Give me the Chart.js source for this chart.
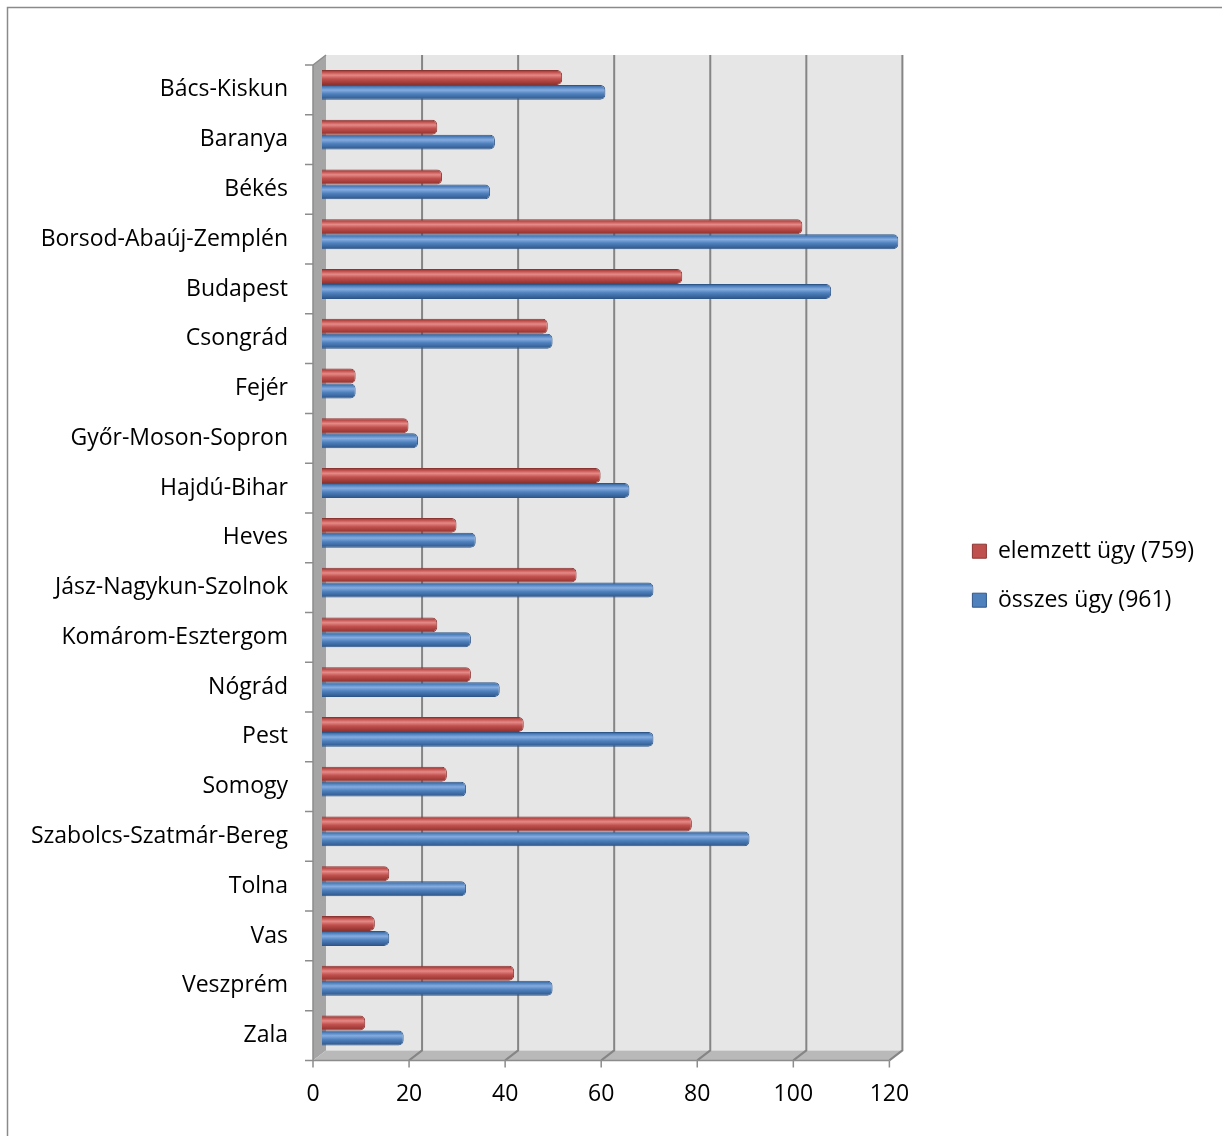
<!DOCTYPE html>
<html>
<head>
<meta charset="utf-8">
<script src="https://cdn.jsdelivr.net/npm/chart.js@4.4.1/dist/chart.umd.min.js"></script>
<style>
  html, body { margin: 0; padding: 0; background: #fff; }
  #wrap { position: absolute; left: 0; top: 0; width: 1222px; height: 1136px; }
</style>
</head>
<body>
<div id="wrap"><canvas id="chart" width="1222" height="1136"></canvas></div>
<script>
// counties (megyék)
const counties = [
  'Bács-Kiskun', 'Baranya', 'Békés', 'Borsod-Abaúj-Zemplén', 'Budapest',
  'Csongrád', 'Fejér', 'Győr-Moson-Sopron', 'Hajdú-Bihar', 'Heves',
  'Jász-Nagykun-Szolnok', 'Komárom-Esztergom', 'Nógrád', 'Pest', 'Somogy',
  'Szabolcs-Szatmár-Bereg', 'Tolna', 'Vas', 'Veszprém', 'Zala'
];
const elemzett = [50, 24, 25, 100, 75, 47, 7, 18, 58, 28, 53, 24, 31, 42, 26, 77, 14, 11, 40, 9];
const osszes   = [59, 36, 35, 120, 106, 48, 7, 20, 64, 32, 69, 31, 37, 69, 30, 89, 30, 14, 48, 17];
const xTicks = [0, 20, 40, 60, 80, 100, 120];

const FONT = '"Open Sans", Lato, sans-serif';

// cylinder-ish shading for each bar, built from the y scale
function barFill(base, light, dark) {
  return (c) => {
    const ch = c.chart;
    const ys = ch.scales.y;
    if (!ys || !ch.chartArea) return base;
    const center = ys.getPixelForValue(c.dataIndex);
    const band = (ys.bottom - ys.top) / counties.length;
    const h = band * 0.6 / 2;
    const y0 = c.datasetIndex === 0 ? center - h : center;
    const g = ch.ctx.createLinearGradient(0, y0, 0, y0 + h);
    g.addColorStop(0, dark);
    g.addColorStop(0.15, base);
    g.addColorStop(0.35, light);
    g.addColorStop(0.6, base);
    g.addColorStop(1, dark);
    return g;
  };
}

// empty box between plot and legend
const gap = {
  id: 'gap',
  start(chart) {
    const box = {
      position: 'right', weight: 0, fullSize: false, options: {},
      left: 0, top: 0, right: 0, bottom: 0, width: 0, height: 0,
      isHorizontal() { return false; },
      update(maxW, maxH) { this.width = 48; this.height = maxH; },
      draw() {}
    };
    Chart.layouts.addBox(chart, box);
  }
};

// fake 3D walls, floor and gridlines behind the bars
const walls = {
  id: 'walls',
  beforeDatasetsDraw(chart) {
    const ctx = chart.ctx;
    const xs = chart.scales.x;
    const ca = chart.chartArea;
    const front = v => xs.getPixelForValue(v) - 9;
    const back = v => xs.getPixelForValue(v) + 4;
    const fTop = ca.top + 5, bTop = ca.top - 5;
    const fBot = ca.bottom + 5, bBot = ca.bottom - 5;
    const max = xTicks[xTicks.length - 1];
    ctx.save();
    // back wall
    ctx.fillStyle = '#e6e6e6';
    ctx.fillRect(back(0), bTop, back(max) - back(0), bBot - bTop);
    // left side wall
    ctx.fillStyle = '#a5a5a5';
    ctx.beginPath();
    ctx.moveTo(front(0), fTop);
    ctx.lineTo(back(0), bTop);
    ctx.lineTo(back(0), bBot);
    ctx.lineTo(front(0), fBot);
    ctx.closePath();
    ctx.fill();
    // floor
    ctx.fillStyle = '#b9b9b9';
    ctx.beginPath();
    ctx.moveTo(front(0), fBot);
    ctx.lineTo(back(0), bBot);
    ctx.lineTo(back(max), bBot);
    ctx.lineTo(front(max), fBot);
    ctx.closePath();
    ctx.fill();
    // gridlines
    ctx.strokeStyle = '#858585';
    ctx.lineWidth = 2;
    xs.ticks.forEach(t => {
      if (t.value === 0) return;
      ctx.beginPath();
      ctx.moveTo(back(t.value), bTop);
      ctx.lineTo(back(t.value), bBot);
      ctx.lineTo(front(t.value), fBot);
      ctx.stroke();
    });
    // axis lines and tick marks
    ctx.strokeStyle = '#8c8c8c';
    ctx.lineWidth = 1.5;
    ctx.beginPath();
    ctx.moveTo(front(0), fTop);
    ctx.lineTo(front(0), fBot);
    ctx.lineTo(front(max), fBot);
    ctx.moveTo(front(0), fTop);
    ctx.lineTo(back(0), bTop);
    xs.ticks.forEach(t => {
      ctx.moveTo(front(t.value), fBot);
      ctx.lineTo(front(t.value), fBot + 7);
    });
    const band = (ca.bottom - ca.top) / counties.length;
    for (let i = 0; i <= counties.length; i++) {
      const y = fTop + i * band;
      ctx.moveTo(front(0) - 8, y);
      ctx.lineTo(front(0), y);
    }
    ctx.stroke();
    ctx.restore();
  },
  afterDraw(chart) {
    // outer frame
    const ctx = chart.ctx;
    ctx.save();
    ctx.strokeStyle = '#8a8a8a';
    ctx.lineWidth = 1.5;
    ctx.strokeRect(7.5, 7.5, 1300, 1300);
    ctx.restore();
  }
};

new Chart(document.getElementById('chart'), {
  type: 'bar',
  data: {
    labels: counties,
    datasets: [
      {
        label: 'elemzett ügy (759)',
        data: elemzett,
        backgroundColor: barFill('#c0504d', '#e58a87', '#8e2f2c'),
        borderColor: '#8b3533',
        borderWidth: 1,
        borderSkipped: 'start',
        borderRadius: 5
      },
      {
        label: 'összes ügy (961)',
        data: osszes,
        backgroundColor: barFill('#4f81bd', '#86ace0', '#2c5489'),
        borderColor: '#2f5688',
        borderWidth: 1,
        borderSkipped: 'start',
        borderRadius: 5
      }
    ]
  },
  options: {
    indexAxis: 'y',
    responsive: false,
    animation: false,
    devicePixelRatio: 1,
    categoryPercentage: 0.6,
    barPercentage: 1,
    layout: { padding: { left: 0, top: 60, right: 18, bottom: 3 } },
    scales: {
      x: {
        min: 0,
        max: 120,
        afterBuildTicks: axis => { axis.ticks = xTicks.map(v => ({ value: v })); },
        grid: { display: false, drawTicks: false },
        border: { display: false },
        ticks: { padding: 25, labelOffset: -9, color: '#000', font: { family: FONT, size: 23 } }
      },
      y: {
        afterFit: scale => { scale.width = 322; },
        grid: { display: false, drawTicks: false },
        border: { display: false },
        ticks: { padding: 34, labelOffset: 5, color: '#000', font: { family: FONT, size: 23 } }
      }
    },
    plugins: {
      legend: {
        position: 'right',
        fullSize: false,
        maxWidth: 320,
        title: { display: true, text: '', padding: 12, font: { size: 10 } },
        labels: {
          boxWidth: 14,
          boxHeight: 14,
          padding: 26,
          color: '#000',
          font: { family: FONT, size: 23 },
          generateLabels: chart => chart.data.datasets.map((ds, i) => ({
            text: ds.label,
            fillStyle: i === 0 ? '#c0504d' : '#4f81bd',
            strokeStyle: i === 0 ? '#8b3533' : '#2f5688',
            fontColor: '#000',
            lineWidth: 1,
            hidden: false,
            datasetIndex: i
          }))
        }
      },
      tooltip: { enabled: false }
    }
  },
  plugins: [gap, walls]
});
</script>
</body>
</html>
